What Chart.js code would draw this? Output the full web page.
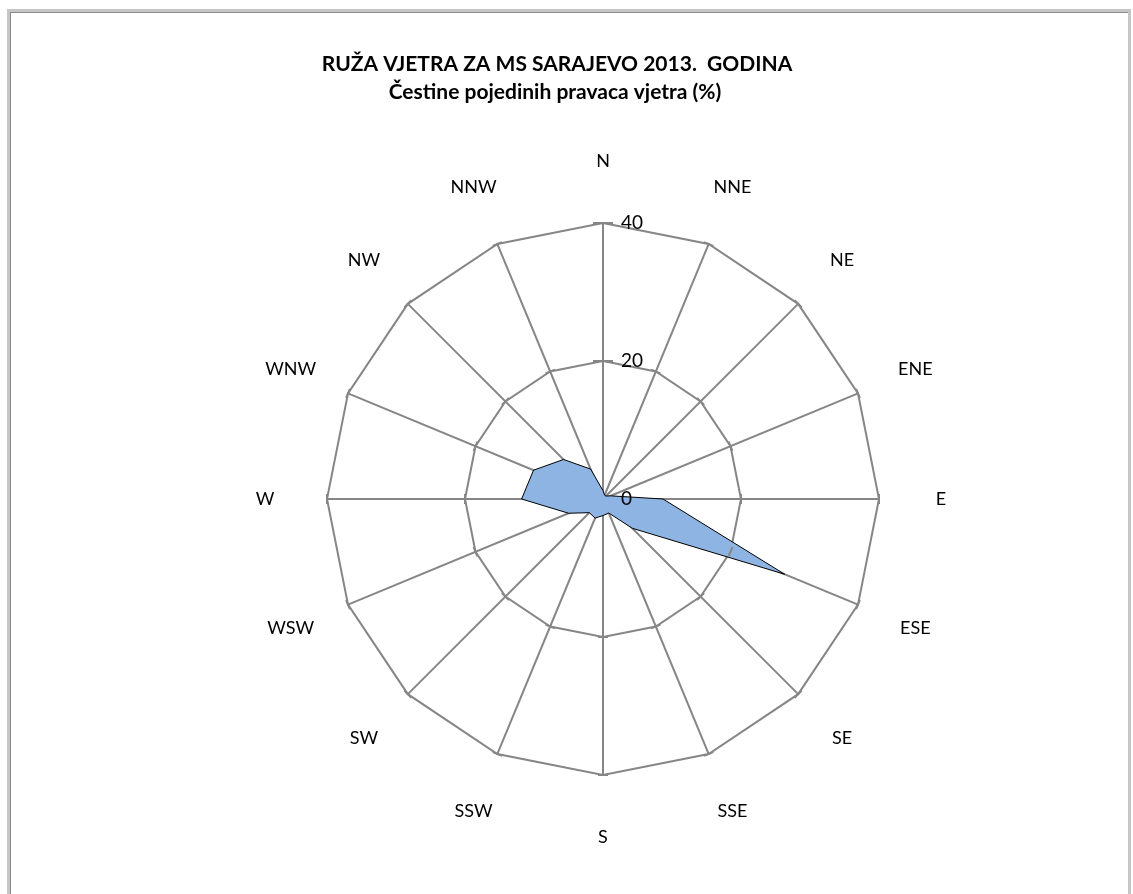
<!DOCTYPE html>
<html>
<head>
<meta charset="utf-8">
<script src="https://cdn.jsdelivr.net/npm/chart.js@4/dist/chart.umd.min.js"></script>
<style>
  html, body { margin: 0; padding: 0; background: #fff; }
  #frame {
    position: absolute; left: 7px; top: 9px; width: 1118px; height: 900px;
    border-left: 3px solid #c6c6c6; border-top: 3px solid #c6c6c6; border-right: 3px solid #c6c6c6;
    box-shadow: inset 1px 1px 0 #8a8a8a;
  }
  #wind-rose { position: absolute; left: 0; top: 0; }
</style>
</head>
<body>
<div id="frame"></div>
<canvas id="wind-rose" width="1133" height="894"></canvas>
<script>
const wind_rose = document.getElementById("wind-rose");

const titleLines = ["RUŽA VJETRA ZA MS SARAJEVO 2013.  GODINA", "Čestine pojedinih pravaca vjetra (%)"];
const directions = ["N", "NNE", "NE", "ENE", "E", "ESE", "SE", "SSE",
                    "S", "SSW", "SW", "WSW", "W", "WNW", "NW", "NNW"];
// frequency per direction (%)
const frequency = [1.2, 0.6, 0.6, 1.2, 8.7, 28.5, 6.0, 2.2,
                   2.4, 3.0, 2.8, 5.4, 11.8, 10.9, 8.1, 4.7];
const tickValues = [0, 20, 40];

const gridColor = '#868686';

// excel style extras: centered direction labels, tick labels beside the N axis, small tick marks
const roseExtras = {
  id: 'roseExtras',
  afterDraw(chart) {
    const ctx = chart.ctx;
    const r = chart.scales.r;
    ctx.save();

    // tick marks on every spoke
    ctx.strokeStyle = gridColor;
    ctx.lineWidth = 2;
    directions.forEach((d, i) => {
      tickValues.forEach(v => {
        if (v === 0) return;
        const dist = r.getDistanceFromCenterForValue(v);
        const p = r.getPointPosition(i, dist);
        const ang = p.angle + Math.PI / 2;
        const half = i === 0 ? 10 : 5;
        ctx.beginPath();
        ctx.moveTo(p.x - Math.cos(ang) * half, p.y - Math.sin(ang) * half);
        ctx.lineTo(p.x + Math.cos(ang) * half, p.y + Math.sin(ang) * half);
        ctx.stroke();
      });
    });

    // tick labels
    ctx.fillStyle = '#000';
    ctx.font = '19px Lato';
    ctx.textAlign = 'left';
    ctx.textBaseline = 'middle';
    tickValues.forEach(v => {
      const dist = r.getDistanceFromCenterForValue(v);
      ctx.fillText(String(v), r.xCenter + 18, r.yCenter - dist);
    });

    // direction labels
    ctx.font = '18px Lato';
    ctx.textAlign = 'center';
    directions.forEach((d, i) => {
      const p = r.getPointPosition(i, r.drawingArea + 62);
      ctx.fillText(d, p.x, p.y);
    });

    // title
    ctx.font = 'bold 21px Lato';
    ctx.fillText(titleLines[0], 557, 64);
    ctx.fillText(titleLines[1], 555, 92);
    ctx.restore();
  }
};

(function createWindRose() {
  new Chart(wind_rose, {
    type: 'radar',
    data: {
      labels: directions,
      datasets: [{
        label: 'Čestine',
        data: frequency,
        backgroundColor: '#8eb4e3',
        borderColor: '#000',
        borderWidth: 1,
        pointRadius: 0,
        fill: true
      }]
    },
    options: {
      responsive: false,
      animation: false,
      layout: { padding: { left: 327, right: 254, top: 223, bottom: 119 } },
      plugins: {
        legend: { display: false },
        title: { display: false },
        tooltip: { enabled: false }
      },
      scales: {
        r: {
          min: 0,
          max: 40,
          ticks: { stepSize: 20, display: false },
          pointLabels: { display: false },
          grid: { color: gridColor, lineWidth: 2 },
          angleLines: { color: gridColor, lineWidth: 2 }
        }
      }
    },
    plugins: [roseExtras]
  });
})();
</script>
</body>
</html>
